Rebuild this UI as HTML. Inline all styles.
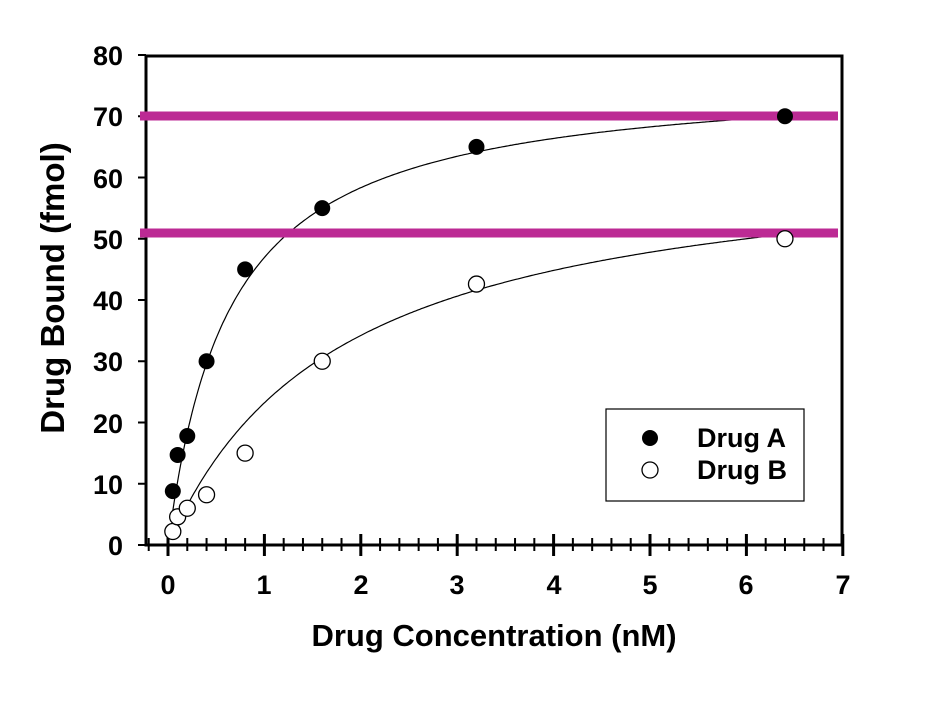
<!DOCTYPE html>
<html><head><meta charset="utf-8"><style>
body{margin:0;background:#fff;}
svg text{font-family:"Liberation Sans",Arial,sans-serif;font-weight:bold;}
</style></head><body>
<svg id="s" width="930" height="698" viewBox="0 0 930 698" xmlns="http://www.w3.org/2000/svg">
<rect x="146" y="56" width="696" height="489" fill="none" stroke="#000" stroke-width="3"/>
<g id="ticks" stroke="#000"></g>
<g font-size="27" text-anchor="end">
<text x="123" y="555">0</text><text x="123" y="494">10</text><text x="123" y="433">20</text><text x="123" y="371">30</text><text x="123" y="310">40</text><text x="123" y="249">50</text><text x="123" y="188">60</text><text x="123" y="126">70</text><text x="123" y="65">80</text>
</g>
<g font-size="27" text-anchor="middle">
<text x="168" y="594">0</text><text x="264" y="594">1</text><text x="361" y="594">2</text><text x="457" y="594">3</text><text x="554" y="594">4</text><text x="650" y="594">5</text><text x="746" y="594">6</text><text x="843" y="594">7</text>
</g>
<text x="494" y="646" font-size="31" text-anchor="middle">Drug Concentration (nM)</text>
<text transform="translate(64,288) rotate(-90)" font-size="33" text-anchor="middle">Drug Bound (fmol)</text>
<path id="cA" fill="none" stroke="#000" stroke-width="1.2"/>
<path id="cB" fill="none" stroke="#000" stroke-width="1.2"/>
<line x1="140" y1="116" x2="838" y2="116" stroke="#BC2A94" stroke-width="9"/>
<line x1="140" y1="233" x2="838" y2="233" stroke="#BC2A94" stroke-width="9"/>
<g id="pts"></g>
<rect x="606" y="409" width="198" height="92" fill="#fff" stroke="#000" stroke-width="1.2"/>
<circle cx="650" cy="438" r="8" fill="#000"/>
<circle cx="650" cy="470" r="8" fill="#fff" stroke="#000" stroke-width="1.3"/>
<g font-size="27"><text x="697" y="447">Drug A</text><text x="697" y="479">Drug B</text></g>
</svg>
<script>
var px=function(x){return 168+96.4*x},py=function(y){return 545-6.125*y};
var t=document.getElementById('ticks'),h='';
for(var i=-1;i<=35;i++){var x=px(i*0.2),maj=(i%5==0);h+='<line x1="'+x+'" x2="'+x+'" y1="'+(maj?534:538)+'" y2="'+(maj?556:551)+'" stroke-width="'+(maj?3:2)+'"/>';}
for(var j=0;j<=8;j++){var y=py(j*10);h+='<line x1="138" x2="146" y1="'+y+'" y2="'+y+'" stroke-width="2"/>';}
t.innerHTML=h;
function curve(B,K){var d='';for(var x=0.05;x<=6.41;x+=0.02){d+=(d?'L':'M')+px(x).toFixed(1)+','+py(B*x/(K+x)).toFixed(1);}return d;}
document.getElementById('cA').setAttribute('d',curve(77,0.64));
document.getElementById('cB').setAttribute('d',curve(65,1.8));
var A=[[0.05,8.8],[0.1,14.7],[0.2,17.8],[0.4,30],[0.8,45],[1.6,55],[3.2,65],[6.4,70]];
var Bp=[[0.05,2.2],[0.1,4.6],[0.2,6],[0.4,8.2],[0.8,15],[1.6,30],[3.2,42.6],[6.4,50]];
var g='';A.forEach(function(p){g+='<circle cx="'+px(p[0])+'" cy="'+py(p[1])+'" r="8" fill="#000"/>';});
Bp.forEach(function(p){g+='<circle cx="'+px(p[0])+'" cy="'+py(p[1])+'" r="8" fill="#fff" stroke="#000" stroke-width="1.3"/>';});
document.getElementById('pts').innerHTML=g;
</script>
</body></html>
